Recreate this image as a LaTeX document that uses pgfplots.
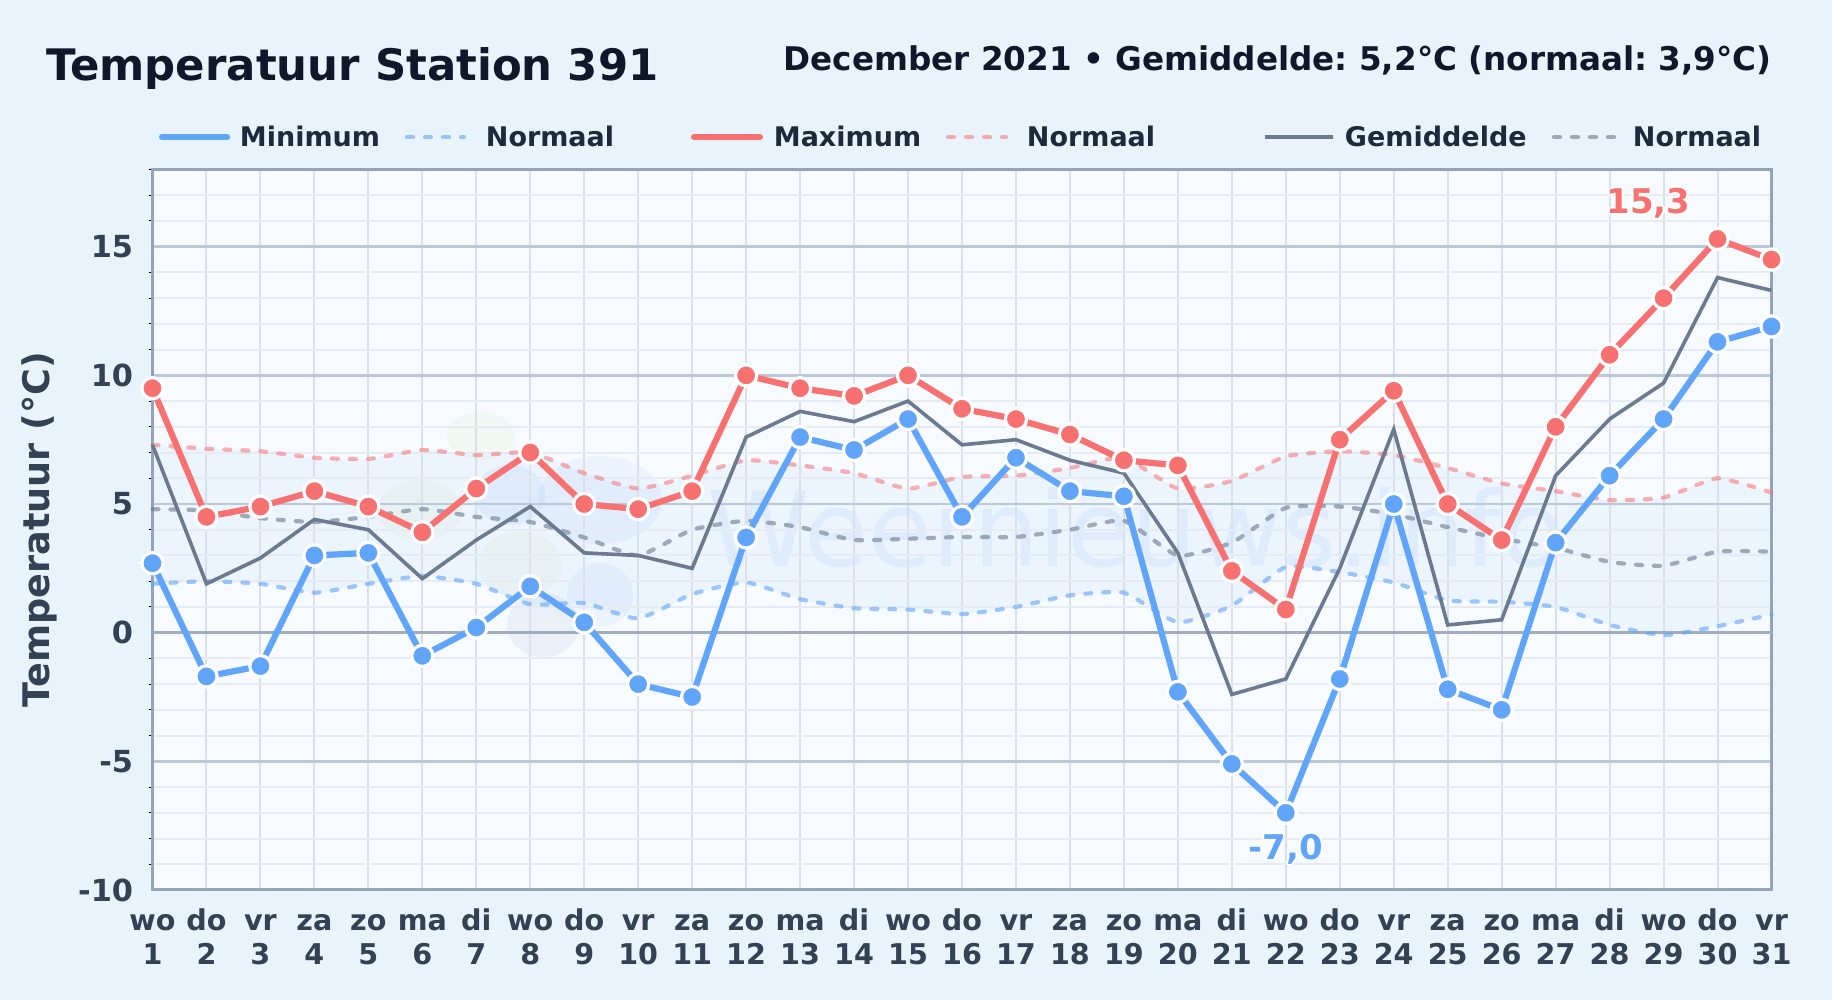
\documentclass[border=0pt]{standalone}
\usepackage{fontspec}
\setmainfont{DejaVu Sans}
\usepackage{pgfplots}
\usepackage{pgfplotstable}
\pgfplotsset{compat=1.18}
\usepgfplotslibrary{fillbetween}
\usepackage[copies]{contour}
\contourlength{0.8pt}
\frenchspacing
\definecolor{pagebg}{HTML}{E8F3FC}
\definecolor{plotbg}{HTML}{F7FBFF}
\definecolor{cmin}{HTML}{60A5FA}
\definecolor{cmax}{HTML}{F87171}
\definecolor{cmean}{HTML}{6B7A90}
\definecolor{titlec}{HTML}{0F172A}
\definecolor{legc}{HTML}{1E293B}
\definecolor{tickc}{HTML}{334155}
\definecolor{axisc}{HTML}{94A3B8}
\definecolor{gridmaj}{HTML}{BBC8DA}
\definecolor{gridx}{HTML}{D9E0EB}
\definecolor{gridmin}{HTML}{E5EBF3}
\definecolor{zeroc}{HTML}{A0ACBF}
\definecolor{bandc}{HTML}{3B82F6}
\definecolor{wmblue}{HTML}{60A5FA}
\definecolor{wmgreen}{HTML}{C5DE9A}
\definecolor{wmgray}{HTML}{7B94B8}
\pgfplotstableread{
day tmin tmax tmean nmin nmax nmean
1  2.7  9.5  7.3  1.9  7.3  4.8
2  -1.7 4.5  1.9  2.0  7.15 4.75
3  -1.3 4.9  2.9  1.9  7.05 4.45
4  3.0  5.5  4.4  1.55 6.8  4.3
5  3.1  4.9  4.0  1.9  6.75 4.5
6  -0.9 3.9  2.1  2.2  7.1  4.8
7  0.2  5.6  3.6  1.9  6.9  4.5
8  1.8  7.0  4.9  1.1  7.0  4.3
9  0.4  5.0  3.1  1.15 6.2  3.7
10 -2.0 4.8  3.0  0.55 5.6  3.0
11 -2.5 5.5  2.5  1.5  6.1  4.0
12 3.7  10.0 7.6  1.95 6.7  4.35
13 7.6  9.5  8.6  1.3  6.5  4.1
14 7.1  9.2  8.2  0.95 6.2  3.6
15 8.3  10.0 9.0  0.9  5.6  3.65
16 4.5  8.7  7.3  0.72 6.05 3.72
17 6.8  8.3  7.5  1.0  6.1  3.72
18 5.5  7.7  6.7  1.45 6.4  4.0
19 5.3  6.7  6.2  1.55 6.8  4.35
20 -2.3 6.5  3.1  0.4  5.6  3.0
21 -5.1 2.4  -2.4 1.05 5.9  3.5
22 -7.0 0.9  -1.8 2.55 6.85 4.85
23 -1.8 7.5  2.5  2.35 7.05 4.9
24 5.0  9.4  7.9  1.95 6.9  4.6
25 -2.2 5.0  0.3  1.25 6.4  4.1
26 -3.0 3.6  0.5  1.2  5.8  3.65
27 3.5  8.0  6.1  1.0  5.5  3.3
28 6.1  10.8 8.3  0.3  5.15 2.75
29 8.3  13.0 9.7  -0.1 5.25 2.6
30 11.3 15.3 13.8 0.25 6.0  3.15
31 11.9 14.5 13.3 0.7  5.45 3.15
}\datatable
\tikzset{normdash/.style={smooth,tension=0.3,line width=2.1pt,line cap=round,dash pattern=on 3pt off 6pt,no markers}}
\newcommand\tl[2]{\rule{0pt}{11pt}#1\\#2}
\pgfdeclarelayer{pagelayer}
\pgfplotsset{layers/withpage/.define layer set={pagelayer,axis background,axis grid,axis ticks,axis lines,axis tick labels,pre main,main,axis descriptions,axis foreground}{}}
\begin{document}
\begin{tikzpicture}
\pgfsetlayers{pagelayer,main}
\begin{pgfonlayer}{pagelayer}
\begin{scope}[shift={(0,500pt)},x=0.5pt,y=-0.5pt]
  \fill[pagebg] (0,0) rectangle (1832,1000);
  \fill[plotbg] (152.5,169.5) rectangle (1771.5,890);
  \fill[wmgreen,opacity=.10] (481,436) ellipse (34 and 24);
  \fill[wmgreen,opacity=.10] (420,510) ellipse (42 and 30);
  \fill[wmblue,opacity=.10] (510,495) ellipse (35 and 30);
  \fill[wmgreen,opacity=.10] (520,565) ellipse (42 and 33);
  \fill[wmblue,opacity=.08] (600,500) ellipse (62 and 44);
  \fill[wmblue,opacity=.08] (600,595) ellipse (33 and 32);
  \fill[wmgray,opacity=.10] (543,625) ellipse (36 and 32);
  \node[anchor=base west,inner sep=0pt,text=wmblue,opacity=.10,font=\fontsize{52}{52}\selectfont] at (707,567) {Weernieuws.info};
\end{scope}
\end{pgfonlayer}
\begin{axis}[
  set layers=withpage,
  at={(76.25pt,55pt)},anchor=south west,
  scale only axis,width=809.5pt,height=360.25pt,
  xmin=1,xmax=31,ymin=-10,ymax=18,
  clip=false,
  axis line style={axisc,line width=1.5pt},
  xtick={1,...,31},
  xticklabels={{\tl{wo}{1}},{\tl{do}{2}},{\tl{vr}{3}},{\tl{za}{4}},{\tl{zo}{5}},{\tl{ma}{6}},{\tl{di}{7}},{\tl{wo}{8}},{\tl{do}{9}},{\tl{vr}{10}},{\tl{za}{11}},{\tl{zo}{12}},{\tl{ma}{13}},{\tl{di}{14}},{\tl{wo}{15}},{\tl{do}{16}},{\tl{vr}{17}},{\tl{za}{18}},{\tl{zo}{19}},{\tl{ma}{20}},{\tl{di}{21}},{\tl{wo}{22}},{\tl{do}{23}},{\tl{vr}{24}},{\tl{za}{25}},{\tl{zo}{26}},{\tl{ma}{27}},{\tl{di}{28}},{\tl{wo}{29}},{\tl{do}{30}},{\tl{vr}{31}}},
  xticklabel style={align=center,text=tickc,font=\bfseries\fontsize{14.3}{17}\selectfont,inner sep=0pt,yshift=-9pt},
  ytick={-10,-5,0,5,10,15},
  yticklabels={-10,-5,0,5,10,15},
  yticklabel style={text=tickc,font=\bfseries\fontsize{15.2}{17}\selectfont,inner sep=0pt,xshift=-9.5pt},
  minor ytick={-9,-8,-7,-6,-4,-3,-2,-1,1,2,3,4,6,7,8,9,11,12,13,14,16,17,18},
  tick pos=left,
  major tick length=0pt,
  minor tick length=2pt,
  tick align=outside,
  minor tick style={black,line width=0.5pt},
  grid=both,
  x grid style={gridx,line width=1pt},
  major grid style={gridmaj,line width=1.3pt},
  minor grid style={gridmin,line width=1pt},
  xmajorgrids=true,
  ylabel={Temperatuur (°C)},
  ylabel style={at={(rel axis cs:-0.0698,0.5)},anchor=center,text=tickc,font=\bfseries\fontsize{18.3}{19}\selectfont},
]
\draw[zeroc,line width=1.4pt] (axis cs:1,0) -- (axis cs:31,0);
\addplot[name path=nmx,draw=none,smooth,tension=0.3,forget plot] table[x=day,y=nmax] {\datatable};
\addplot[name path=nmn,draw=none,smooth,tension=0.3,forget plot] table[x=day,y=nmin] {\datatable};
\addplot[fill=bandc,fill opacity=.055,draw=none,forget plot] fill between[of=nmx and nmn];
\addplot[normdash,cmin,opacity=.6] table[x=day,y=nmin] {\datatable};
\addplot[normdash,cmax,opacity=.55] table[x=day,y=nmax] {\datatable};
\addplot[normdash,cmean,opacity=.6] table[x=day,y=nmean] {\datatable};
\addplot[cmean,line width=1.8pt,no markers,line join=miter] table[x=day,y=tmean] {\datatable};
\addplot[cmax,line width=3.1pt,mark=*,mark size=5.3pt,mark options={draw=white,fill=cmax,line width=1.6pt,solid}] table[x=day,y=tmax] {\datatable};
\addplot[cmin,line width=3.1pt,mark=*,mark size=5.3pt,mark options={draw=white,fill=cmin,line width=1.6pt,solid}] table[x=day,y=tmin] {\datatable};
\node[text=cmax,font=\bfseries\fontsize{17}{17}\selectfont,inner sep=0pt] at (axis cs:28.72,16.65) {\contour{white}{15,3}};
\node[text=cmin,font=\bfseries\fontsize{17}{17}\selectfont,inner sep=0pt] at (axis cs:22,-8.45) {\contour{white}{-7,0}};
\end{axis}
\begin{scope}[shift={(0,500pt)},x=0.5pt,y=-0.5pt]
  \node[anchor=base west,inner sep=0pt,text=titlec,font=\bfseries\fontsize{21.7}{24}\selectfont] at (46,81) {Temperatuur Station 391};
  \node[anchor=base east,inner sep=0pt,text=titlec,font=\bfseries\fontsize{16.3}{18}\selectfont] at (1772,71) {December 2021 • Gemiddelde: 5,2°C (normaal: 3,9°C)};
  \tikzset{legt/.style={anchor=base west,inner sep=0pt,text=legc,font=\bfseries\fontsize{13.5}{16}\selectfont},
           legd/.style={line width=2.1pt,line cap=round,dash pattern=on 3pt off 6pt}}
  \draw[cmin,line width=3.1pt,line cap=round] (162,137) -- (227,137);
  \node[legt] at (239.5,147) {Minimum};
  \draw[legd,cmin,opacity=.6] (407,137) -- (464,137);
  \node[legt] at (485.5,147) {Normaal};
  \draw[cmax,line width=3.1pt,line cap=round] (694,137) -- (760,137);
  \node[legt] at (773.5,147) {Maximum};
  \draw[legd,cmax,opacity=.55] (948,137) -- (1006,137);
  \node[legt] at (1026.5,147) {Normaal};
  \draw[cmean,line width=1.8pt] (1265,137) -- (1333,137);
  \node[legt] at (1344.5,147) {Gemiddelde};
  \draw[legd,cmean,opacity=.6] (1554,137) -- (1618,137);
  \node[legt] at (1632.5,147) {Normaal};
\end{scope}
\end{tikzpicture}
\end{document}
